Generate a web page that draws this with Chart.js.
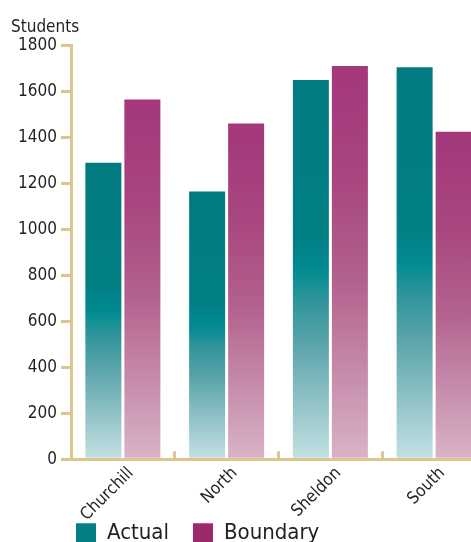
<!DOCTYPE html>
<html lang="en">
  <head>
    <meta charset="utf-8" />
    <script src="https://cdn.jsdelivr.net/npm/chart.js"></script>
    <title>Students</title>
    <style>
      body {
        margin: 0;
        padding: 0;
        overflow: hidden;
        background: #ffffff;
      }

      #chartBox {
        position: relative;
        width: 490px;
        height: 593px;
      }
    </style>
  </head>
  <body>
    <div id="chartBox">
      <canvas id="myChart"></canvas>
    </div>

    <script>
      // data
      var schools = ["Churchill", "North", "Sheldon", "South"];
      var actual = [1290, 1165, 1650, 1705];
      var boundary = [1565, 1460, 1710, 1425];
      var yTicks = [0, 200, 400, 600, 800, 1000, 1200, 1400, 1600, 1800];

      var tan = "#dcc68e";
      var ink = "#231f20";
      var font = "'Liberation Sans Narrow', 'DejaVu Sans Condensed', sans-serif";
      var legendColors = ["#037f84", "#9c2a6b"];

      // vertical gradient stretched over each bar
      function barFill(stops, legendColor) {
        return function (context) {
          var chart = context.chart;
          if (!chart.chartArea || context.type !== "data") return legendColor;
          var y = chart.scales.y;
          var top = y.getPixelForValue(context.raw);
          var bottom = y.getPixelForValue(0);
          if (!isFinite(top) || bottom - top < 1) return legendColor;
          var g = chart.ctx.createLinearGradient(0, top, 0, bottom);
          stops.forEach(function (s) { g.addColorStop(s[0], s[1]); });
          return g;
        };
      }

      var tealStops = [
        [0, "#027b80"], [0.42, "#017f85"], [0.5, "#008b91"],
        [0.58, "#2f949b"], [0.7, "#5ca5ab"], [0.85, "#91c3c7"], [1, "#c3e1e3"]
      ];
      var plumStops = [
        [0, "#a3377a"], [0.3, "#a8477f"], [0.55, "#b3628d"],
        [0.8, "#c78fae"], [1, "#dab3c7"]
      ];

      // legend sits under the first bars, tucked up against the labels
      var legendShift = {
        id: "legendShift",
        afterLayout: function (chart) {
          var lg = chart.legend;
          var h = lg.bottom - lg.top;
          lg.left += 41;
          lg.right += 41;
          lg.top = chart.chartArea.bottom + 39;
          lg.bottom = lg.top + h;
        }
      };

      var ctx = document.getElementById("myChart").getContext("2d");
      var myChart = new Chart(ctx, {
        type: "bar",
        data: {
          labels: schools,
          datasets: [
            {
              label: "Actual",
              data: actual,
              backgroundColor: barFill(tealStops, legendColors[0]),
              borderWidth: 0,
              categoryPercentage: 0.752,
              barPercentage: 0.923
            },
            {
              label: "Boundary",
              data: boundary,
              backgroundColor: barFill(plumStops, legendColors[1]),
              borderWidth: 0,
              categoryPercentage: 0.752,
              barPercentage: 0.923
            }
          ]
        },
        plugins: [legendShift],
        options: {
          responsive: true,
          maintainAspectRatio: false,
          animation: false,
          layout: { padding: { left: 11, right: 4, top: 17, bottom: 0 } },
          plugins: {
            tooltip: { enabled: false },
            title: {
              display: true,
              text: "Students",
              align: "start",
              color: ink,
              font: { family: font, size: 17, weight: "normal" },
              padding: { top: 0, bottom: 8 }
            },
            legend: {
              position: "bottom",
              align: "start",
              labels: {
                boxWidth: 20,
                boxHeight: 20,
                padding: 24,
                color: ink,
                font: { family: font, size: 22 },
                generateLabels: function (chart) {
                  var items = Chart.defaults.plugins.legend.labels.generateLabels(chart);
                  items.forEach(function (item, i) {
                    item.fillStyle = legendColors[i];
                    item.strokeStyle = legendColors[i];
                    item.lineWidth = 0;
                  });
                  return items;
                }
              }
            }
          },
          scales: {
            x: {
              border: { color: tan, width: 3 },
              grid: {
                offset: true,
                drawOnChartArea: false,
                color: tan,
                lineWidth: 3,
                tickLength: -8
              },
              ticks: {
                color: ink,
                font: { family: font, size: 17 },
                minRotation: 45,
                maxRotation: 45,
                labelOffset: 8,
                padding: 12
              }
            },
            y: {
              min: 0,
              max: 1800,
              afterFit: function (scale) { scale.width = 60; },
              afterBuildTicks: function (scale) {
                scale.ticks = yTicks.map(function (v) { return { value: v }; });
              },
              border: { color: tan, width: 3 },
              grid: {
                drawOnChartArea: false,
                color: tan,
                lineWidth: 3,
                tickLength: 10
              },
              ticks: {
                color: ink,
                font: { family: font, size: 17 },
                padding: 4,
                callback: function (value) { return String(value); }
              }
            }
          }
        }
      });
    </script>
  </body>
</html>
